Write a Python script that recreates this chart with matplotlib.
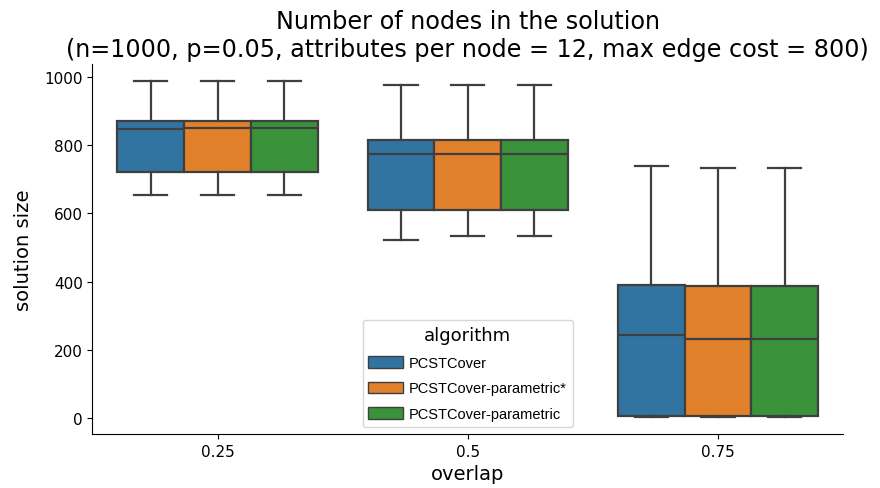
import numpy as np
import matplotlib.pyplot as plt
from matplotlib.patches import Patch

# box summaries per overlap level, one entry per algorithm
overlaps = ['0.25', '0.5', '0.75']
algorithms = ['PCSTCover', 'PCSTCover-parametric*', 'PCSTCover-parametric']
colors = ['#3274a1', '#e1812c', '#3a923a']

whis_hi = [[988, 988, 988], [977, 977, 977], [737, 733, 733]]
q3 = [[869, 869, 869], [816, 816, 816], [391, 388, 388]]
median = [[847, 850, 850], [773, 773, 773], [244, 232, 232]]
q1 = [[722, 722, 722], [611, 611, 611], [5, 5, 5]]
whis_lo = [[654, 654, 654], [522, 532, 532], [2, 2, 2]]

fig, ax = plt.subplots(figsize=(8.8, 4.89), dpi=100)
fig.subplots_adjust(left=0.105, right=0.958, top=0.867, bottom=0.11)

n = len(algorithms)
w = 0.8 / n
edge = '#3f3f3f'
for i in range(len(overlaps)):
    for j in range(n):
        st = [dict(med=median[i][j], q1=q1[i][j], q3=q3[i][j],
                   whislo=whis_lo[i][j], whishi=whis_hi[i][j], fliers=[])]
        pos = i + (j - (n - 1) / 2) * w
        ax.bxp(st, positions=[pos], widths=w, patch_artist=True, manage_ticks=False,
               boxprops=dict(facecolor=colors[j], edgecolor=edge, linewidth=1.6),
               medianprops=dict(color=edge, linewidth=1.6),
               whiskerprops=dict(color=edge, linewidth=1.6),
               capprops=dict(color=edge, linewidth=1.6))

ax.set_xlim(-0.5, len(overlaps) - 0.5)
ax.set_ylim(-47, 1037)
ax.set_xticks(range(len(overlaps)))
ax.set_xticklabels(overlaps)
ax.tick_params(labelsize=11)
ax.spines['top'].set_visible(False)
ax.spines['right'].set_visible(False)

ax.set_xlabel('overlap', fontsize=14)
ax.set_ylabel('solution size', fontsize=14, labelpad=8)
ax.set_title('Number of nodes in the solution\n'
             '(n=1000, p=0.05, attributes per node = 12, max edge cost = 800)',
             fontsize=17.2)

handles = [Patch(facecolor=c, edgecolor=edge, label=a) for c, a in zip(colors, algorithms)]
leg = ax.legend(handles=handles, title='algorithm', loc='lower center',
                prop={'family': ['Liberation Sans Narrow', 'Liberation Sans'], 'size': 10.5},
                title_fontsize=13, handlelength=2.4, handleheight=0.85,
                labelspacing=0.8, handletextpad=0.4, borderaxespad=0.5)

fig.savefig('out.png')
